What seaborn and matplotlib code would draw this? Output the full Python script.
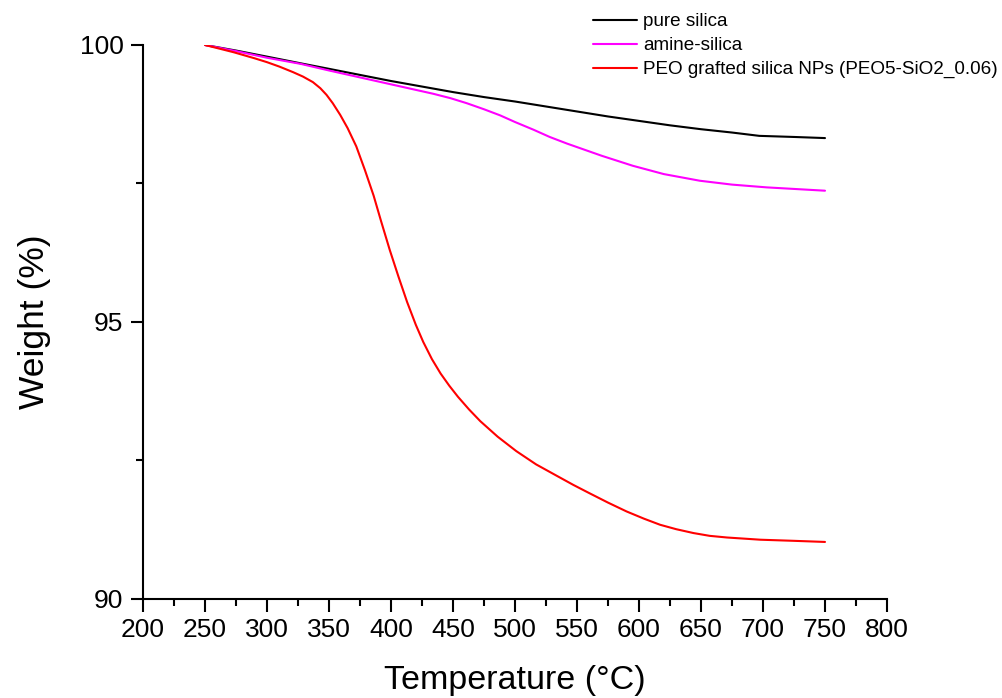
import numpy as np
import pandas as pd
import matplotlib
matplotlib.use('Agg')
import matplotlib.pyplot as plt
from matplotlib.ticker import MultipleLocator
import seaborn as sns

# TGA curves
temp_pure = [250, 275, 300, 327, 350, 375, 400, 425, 450, 475, 500, 525, 550,
             575, 600, 625, 650, 675, 697, 725, 750]
weight_pure = [100, 99.90, 99.79, 99.67, 99.57, 99.46, 99.35, 99.25, 99.15, 99.06,
               98.98, 98.89, 98.80, 98.71, 98.63, 98.55, 98.48, 98.42, 98.36, 98.34, 98.32]

temp_amine = [250, 275, 300, 327, 350, 380, 410, 434, 448, 461, 475, 488, 500, 515,
              528, 542, 570, 595, 620, 649, 675, 703, 750]
weight_amine = [100, 99.89, 99.77, 99.66, 99.54, 99.39, 99.24, 99.12, 99.04, 98.95,
                98.84, 98.73, 98.61, 98.47, 98.34, 98.22, 98.00, 97.82, 97.67, 97.55,
                97.48, 97.43, 97.37]

temp_peo = [250, 273, 290, 300, 310, 321, 329, 337, 343, 348, 353, 359, 365, 372,
            379, 386, 392, 399, 406, 413, 420, 426, 433, 440, 447, 454, 463, 472,
            486, 501, 517, 534, 547, 560, 575, 590, 604, 617, 630, 644, 657, 671,
            698, 725, 750]
weight_peo = [100, 99.87, 99.76, 99.69, 99.61, 99.51, 99.43, 99.33, 99.22, 99.10,
              98.95, 98.74, 98.50, 98.17, 97.74, 97.28, 96.82, 96.30, 95.82, 95.36,
              94.95, 94.64, 94.33, 94.07, 93.85, 93.65, 93.42, 93.21, 92.93, 92.67,
              92.43, 92.22, 92.06, 91.91, 91.74, 91.58, 91.45, 91.34, 91.26, 91.19,
              91.14, 91.11, 91.07, 91.05, 91.03]

labels = ["pure silica", "amine-silica", "PEO grafted silica NPs (PEO5-SiO2_0.06)"]
colors = ["#000000", "#ff00ff", "#ff0000"]

frames = []
for lab, t, w in zip(labels, [temp_pure, temp_amine, temp_peo],
                     [weight_pure, weight_amine, weight_peo]):
    frames.append(pd.DataFrame({"Temperature": t, "Weight": w, "Sample": lab}))
df = pd.concat(frames, ignore_index=True)

sns.set_style("ticks")
plt.rcParams['font.family'] = ['Liberation Sans', 'DejaVu Sans']
plt.rcParams['text.color'] = 'black'
plt.rcParams['axes.labelcolor'] = 'black'
plt.rcParams['xtick.color'] = 'black'
plt.rcParams['ytick.color'] = 'black'

fig = plt.figure(figsize=(10.03, 6.98), dpi=100)
ax = fig.add_axes([143 / 1003, 99 / 698, 744 / 1003, 554 / 698])

sns.lineplot(data=df, x="Temperature", y="Weight", hue="Sample", hue_order=labels,
             palette=colors, linewidth=1.5, ax=ax, sort=False, estimator=None)

ax.set_xlim(200, 800)
ax.set_ylim(90, 100)
ax.xaxis.set_major_locator(MultipleLocator(50))
ax.xaxis.set_minor_locator(MultipleLocator(25))
ax.yaxis.set_major_locator(MultipleLocator(5))
ax.yaxis.set_minor_locator(MultipleLocator(2.5))
ax.tick_params(which="major", direction="out", length=9, width=1.5, labelsize=19, pad=5)
ax.tick_params(which="minor", direction="out", length=5, width=1.5)
for side in ["top", "right"]:
    ax.spines[side].set_visible(False)
for side in ["left", "bottom"]:
    ax.spines[side].set_linewidth(1.5)
    ax.spines[side].set_color("black")

ax.set_xlabel("Temperature (°C)", fontsize=24.5, labelpad=16)
ax.set_ylabel("Weight (%)", fontsize=25.5, labelpad=21)

sns.move_legend(ax, "upper left", bbox_to_anchor=(593 / 1003, 1 - 13 / 698),
                bbox_transform=fig.transFigure, frameon=False, title=None,
                fontsize=13.6, handlelength=2.35, handletextpad=0.3,
                labelspacing=0.36, borderpad=0, borderaxespad=0)

fig.savefig("out.png", dpi=100)
plt.close(fig)
